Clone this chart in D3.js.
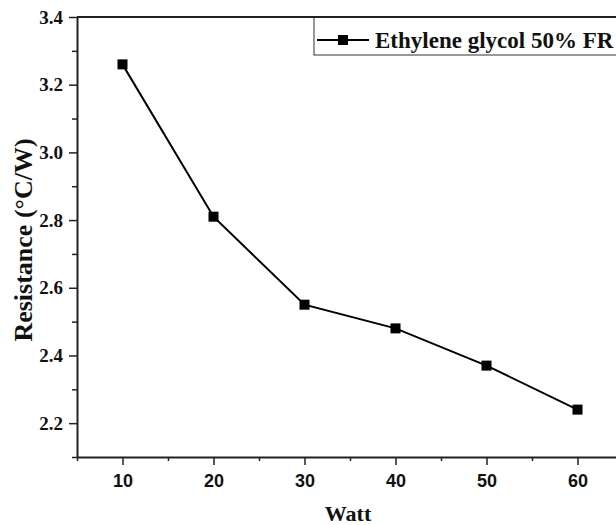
<!DOCTYPE html>
<html>
<head>
<meta charset="utf-8">
<script src="https://cdn.jsdelivr.net/npm/d3@7"></script>
<style>
  html, body { margin: 0; padding: 0; background: #fff; }
  svg { display: block; }
  .xt text { font-family: 'Liberation Sans', Arial, sans-serif; font-weight: bold; font-size: 18px; fill: #111; }
  .yt text { font-family: 'Liberation Serif', 'Times New Roman', serif; font-weight: bold; font-size: 19px; fill: #111; }
</style>
</head>
<body>
<svg id="chart" width="616" height="525"></svg>
<script>
// ---- data ----
const watts = [10, 20, 30, 40, 50, 60];
const resistance = [3.26, 2.81, 2.55, 2.48, 2.37, 2.24];
const seriesName = "Ethylene glycol 50% FR";
const xMajorTicks = [10, 20, 30, 40, 50, 60];
const xMinorTicks = [5, 15, 25, 35, 45, 55, 65];
const yMajorTicks = [2.2, 2.4, 2.6, 2.8, 3.0, 3.2, 3.4];
const yMinorTicks = [2.1, 2.3, 2.5, 2.7, 2.9, 3.1, 3.3];
const xTitle = "Watt";
const yTitle = "Resistance (°C/W)";

// ---- layout ----
const svg = d3.select("#chart");
const pL = 77, pR = 623, pT = 17, pB = 457;
const serif = "'Liberation Serif', 'Times New Roman', serif";

const x = d3.scaleLinear().domain([5, 65]).range([pL, pR]);
const y = d3.scaleLinear().domain([2.1, 3.4]).range([pB, pT]);

// right frame
svg.append("line").attr("x1", pR).attr("x2", pR).attr("y1", pT).attr("y2", pB)
  .attr("stroke", "#222").attr("stroke-width", 2);

// x axis
const gx = svg.append("g").attr("class", "xt").attr("transform", `translate(0,${pB})`);
gx.call(d3.axisBottom(x).tickValues(xMajorTicks).tickSize(8).tickSizeOuter(0).tickPadding(9)
  .tickFormat(d3.format("d")));
const gxm = svg.append("g").attr("transform", `translate(0,${pB})`);
gxm.call(d3.axisBottom(x).tickValues(xMinorTicks).tickSize(4).tickSizeOuter(0).tickFormat(""));
gxm.select(".domain").remove();

// y axis
const gy = svg.append("g").attr("class", "yt").attr("transform", `translate(${pL},0)`);
gy.call(d3.axisLeft(y).tickValues(yMajorTicks).tickSize(8).tickSizeOuter(0).tickPadding(6)
  .tickFormat(d3.format(".1f")));
const gym = svg.append("g").attr("transform", `translate(${pL},0)`);
gym.call(d3.axisLeft(y).tickValues(yMinorTicks).tickSize(5).tickSizeOuter(0).tickFormat(""));
gym.select(".domain").remove();

svg.selectAll(".domain").attr("stroke", "#222").attr("stroke-width", 2);
svg.selectAll(".tick line").attr("stroke", "#222").attr("stroke-width", 1.5);

// axis titles
svg.append("text").attr("x", 348).attr("y", 521).attr("text-anchor", "middle")
  .style("font-family", serif).style("font-weight", "bold").style("font-size", "22px")
  .attr("fill", "#111").text(xTitle);
svg.append("text").attr("transform", `translate(32,240) rotate(-90)`).attr("text-anchor", "middle")
  .style("font-family", serif).style("font-weight", "bold").style("font-size", "26px")
  .attr("fill", "#111").text(yTitle);

// series
const data = watts.map((w, i) => ({ w, r: resistance[i] }));
const line = d3.line().x(d => x(d.w)).y(d => y(d.r));
svg.append("path").datum(data).attr("d", line).attr("fill", "none")
  .attr("stroke", "#000").attr("stroke-width", 2);
const ms = 10;
svg.selectAll("rect.pt").data(data).enter().append("rect").attr("class", "pt")
  .attr("x", d => x(d.w) - ms / 2).attr("y", d => y(d.r) - ms / 2)
  .attr("width", ms).attr("height", ms).attr("fill", "#000");

// legend
const lg = svg.append("g");
lg.append("rect").attr("x", 314).attr("y", pT).attr("width", 330).attr("height", 38)
  .attr("fill", "#fff").attr("stroke", "#333").attr("stroke-width", 1);
svg.append("line").attr("x1", pL).attr("x2", pR).attr("y1", pT).attr("y2", pT)
  .attr("stroke", "#222").attr("stroke-width", 2);
lg.append("line").attr("x1", 317).attr("x2", 369).attr("y1", 40).attr("y2", 40)
  .attr("stroke", "#000").attr("stroke-width", 2);
lg.append("rect").attr("x", 343 - ms / 2).attr("y", 40 - ms / 2).attr("width", ms).attr("height", ms)
  .attr("fill", "#000");
lg.append("text").attr("x", 375).attr("y", 48).style("font-family", serif).style("font-weight", "bold")
  .style("font-size", "23px").attr("fill", "#111").text(seriesName);
</script>
</body>
</html>
